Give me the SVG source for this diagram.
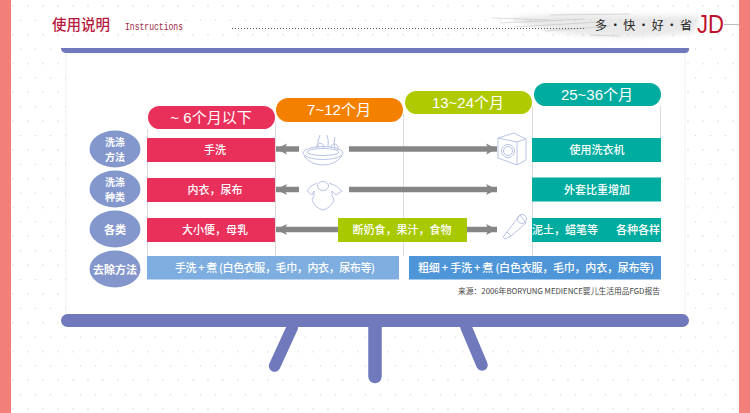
<svg xmlns="http://www.w3.org/2000/svg" width="750" height="413" viewBox="0 0 750 413">
<defs>
<pattern id="dots" width="15" height="28.8" patternUnits="userSpaceOnUse">
<circle cx="13" cy="6" r="0.8" fill="#d9d9d9"/><circle cx="5.5" cy="20.4" r="0.8" fill="#d9d9d9"/>
</pattern>
<marker id="ah" markerUnits="userSpaceOnUse" markerWidth="12" markerHeight="12" refX="11" refY="6" orient="auto-start-reverse">
<path d="M0 .5L11 6L0 11.500L2.500 6Z" fill="#868686"/>
</marker>
<filter id="soft" x="-20%" y="-60%" width="140%" height="220%"><feGaussianBlur stdDeviation="2.500"/></filter>
<filter id="soft2" x="-10%" y="-100%" width="120%" height="300%"><feGaussianBlur stdDeviation="0.700"/></filter>
</defs>
<style>
text{font-family:"Noto Sans CJK SC","Liberation Sans",sans-serif;}
.t{fill:#fff;font-size:11px;font-weight:500;text-anchor:middle;}
.h{fill:#fff;font-size:15px;text-anchor:middle;font-family:"Liberation Sans","Noto Sans CJK SC",sans-serif;}
.c{fill:#fff;font-size:11px;font-weight:700;text-anchor:middle;}
.c2{fill:#fff;font-size:10px;font-weight:700;text-anchor:middle;}
.ic{fill:none;stroke:#b9c3e6;stroke-width:1;}
.ar{stroke:#868686;stroke-width:5.500;fill:none;}
.gl{stroke:#dcdcdc;stroke-width:1;fill:none;}
.r{fill:#e8305a;}.g{fill:#00ac9f;}
</style>
<rect width="750" height="413" fill="#fff"/>
<rect width="750" height="413" fill="url(#dots)"/>
<rect x="0" y="0" width="11" height="413" fill="#f27f7a"/>
<rect x="739" y="0" width="11" height="413" fill="#f27f7a"/>

<g id="header">
<path d="M510 18Q560 12 620 15L700 16L695 32Q640 40 590 36Q540 32 510 18Z" fill="#cfcfcf" opacity="0.45" filter="url(#soft)"/>
<path d="M492 18L550 20M500 23L585 19M515 27L600 22M545 31L610 26M550 15L630 14M590 35L620 36" stroke="#aaa" stroke-width="1" opacity="0.4" fill="none" filter="url(#soft2)"/>
<text x="52" y="30" font-size="14.500" font-weight="500" fill="#b5183c">使用说明</text>
<text x="125" y="30" font-size="11" fill="#a01f45" textLength="58" lengthAdjust="spacingAndGlyphs" style="font-family:'Liberation Mono',monospace">Instructions</text>
<line x1="232" y1="28.500" x2="586" y2="28.500" stroke="#555" stroke-width="1" stroke-dasharray="1 2"/>
<text x="595" y="30" font-size="12" fill="#222" textLength="97">多 · 快 · 好 · 省</text>
<text x="697" y="33" font-size="25" fill="#c0122d" textLength="27" lengthAdjust="spacingAndGlyphs" style="font-family:'Liberation Sans',sans-serif">JD</text>
<line x1="724" y1="24.500" x2="739" y2="24.500" stroke="#bbb"/>
</g>

<g id="board">
<rect x="66" y="53" width="619" height="262" fill="#fff" stroke="#f0f0f0"/>
<path d="M61 48H689V49Q689 53 685 53H66Q62 53 61 49Z" fill="#7079bb"/>
<path d="M292.500 327L274.600 366M466 327L482 365" stroke="#7079bb" stroke-width="11.500" stroke-linecap="round" fill="none"/>
<path d="M375 327V376.500" stroke="#7079bb" stroke-width="13.500" stroke-linecap="round" fill="none"/>
<rect x="61" y="314" width="628" height="13" rx="6.500" fill="#7079bb"/>
</g>

<g id="connectors">
<path class="gl" d="M147.500 129V256M275.500 122V256M403.500 114V256M532.500 106V256M660.500 106V138"/>
<line class="ar" x1="299" y1="149" x2="276" y2="149" marker-end="url(#ah)"/>
<line class="ar" x1="349" y1="149" x2="497" y2="149" marker-end="url(#ah)"/>
<line class="ar" x1="299" y1="189.500" x2="276" y2="189.500" marker-end="url(#ah)"/>
<line class="ar" x1="349" y1="189.500" x2="497" y2="189.500" marker-end="url(#ah)"/>
<line class="ar" x1="338" y1="229.500" x2="276" y2="229.500" marker-end="url(#ah)"/>
<line class="ar" x1="467" y1="229.500" x2="497" y2="229.500" marker-end="url(#ah)"/>
</g>

<g id="age-1"><rect x="148" y="106" width="127" height="23" rx="11.500" fill="#e8305a"/><text class="h" x="211" y="123">~ 6个月以下</text></g>
<g id="age-2"><rect x="276" y="98" width="127" height="24" rx="12" fill="#f48000"/><text class="h" x="339" y="115">7~12个月</text></g>
<g id="age-3"><rect x="405" y="91" width="127" height="23" rx="11.500" fill="#afca00"/><text class="h" x="468" y="108">13~24个月</text></g>
<g id="age-4"><rect x="534" y="83" width="127" height="23" rx="11.500" fill="#00ac9f"/><text class="h" x="597" y="100">25~36个月</text></g>

<g id="row-label-1"><ellipse cx="115" cy="149" rx="25.500" ry="18.500" fill="#8497cd"/><text class="c2" x="115" y="146">洗涤</text><text class="c2" x="115" y="160.800">方法</text></g>
<g id="row-label-2"><ellipse cx="115" cy="189" rx="25.500" ry="18.500" fill="#8497cd"/><text class="c2" x="115" y="186">洗涤</text><text class="c2" x="115" y="200.800">种类</text></g>
<g id="row-label-3"><ellipse cx="115" cy="229" rx="25.500" ry="18.500" fill="#8497cd"/><text class="c" x="115" y="234">各类</text></g>
<g id="row-label-4"><ellipse cx="115" cy="269" rx="25.500" ry="18.500" fill="#8497cd"/><text class="c" x="115" y="274">去除方法</text></g>

<g id="cell-hand"><rect class="r" x="147" y="138" width="128" height="24"/><text class="t" x="215" y="154">手洗</text></g>
<g id="cell-clothes"><rect class="r" x="147" y="178" width="128" height="24"/><text class="t" x="215" y="194">内衣，尿布</text></g>
<g id="cell-stain"><rect class="r" x="147" y="218" width="128" height="24"/><text class="t" x="215" y="234">大小便，母乳</text></g>
<g id="cell-machine"><rect class="g" x="532" y="138" width="129" height="24"/><text class="t" x="597" y="154">使用洗衣机</text></g>
<g id="cell-outer"><rect class="g" x="532" y="177.500" width="129" height="24"/><text class="t" x="597" y="194">外套比重增加</text></g>
<g id="cell-dirt"><rect class="g" x="532" y="218" width="129" height="24"/><text class="t" x="565" y="234">泥土，蜡笔等</text><text class="t" x="638" y="234">各种各样</text></g>
<g id="cell-food"><rect x="338" y="218" width="129" height="24" fill="#a8c800"/><text class="t" x="402" y="234">断奶食，果汁，食物</text></g>
<g id="cell-method-1"><rect x="147" y="256" width="252" height="23.500" fill="#7eaedf"/><text x="175" y="272" font-size="11" font-weight="500" fill="#fff" textLength="200">手洗 + 煮 (白色衣服，毛巾，内衣，尿布等)</text></g>
<g id="cell-method-2"><rect x="409" y="256" width="252" height="23.500" fill="#4f96d8"/><text x="418" y="272" font-size="11" font-weight="500" fill="#fff" textLength="236">粗细 + 手洗 + 煮 (白色衣服，毛巾，内衣，尿布等)</text></g>

<g id="icon-basin" class="ic">
<ellipse cx="323" cy="153" rx="20" ry="6.500"/><ellipse cx="323" cy="152" rx="16" ry="3.500"/>
<path d="M304 156Q311 165 323 165Q335 165 342 156"/>
<path d="M320 135Q317 141 318 147M327 135Q329 141 328 147M335 137Q333 143 335 149M323 149a3.500 3.500 0 1 0 -6 -1M337 150a3.500 3.500 0 1 0 -6 -2"/>
</g>
<g id="icon-bodysuit" class="ic">
<ellipse cx="323" cy="186" rx="5.500" ry="4.500"/>
<path d="M317 183Q310 185 307 191L312 195L314 191Q315 196 312 200Q315 208 323 210Q331 208 334 200Q331 196 332 191L336 195L342 191Q337 185 329 183"/>
</g>
<g id="icon-washer" class="ic">
<path d="M498 138L514 133L526 139V160L517 165L498 158Z"/><path d="M498 138L517 142V165M517 142L526 139"/>
<circle cx="508" cy="151" r="6.500"/><circle cx="508" cy="151" r="4.500"/>
</g>
<g id="icon-tube" class="ic">
<path d="M520 215L526 223L511 236L507 232Z"/><circle cx="522" cy="219" r="4.500"/>
<path d="M507 232L503 237L505 239L511 236"/>
</g>

<text id="source" x="458" y="294" font-size="8" fill="#444" textLength="202" lengthAdjust="spacingAndGlyphs">来源：2006年BORYUNG MEDIENCE婴儿生活用品FGD报告</text>
</svg>
